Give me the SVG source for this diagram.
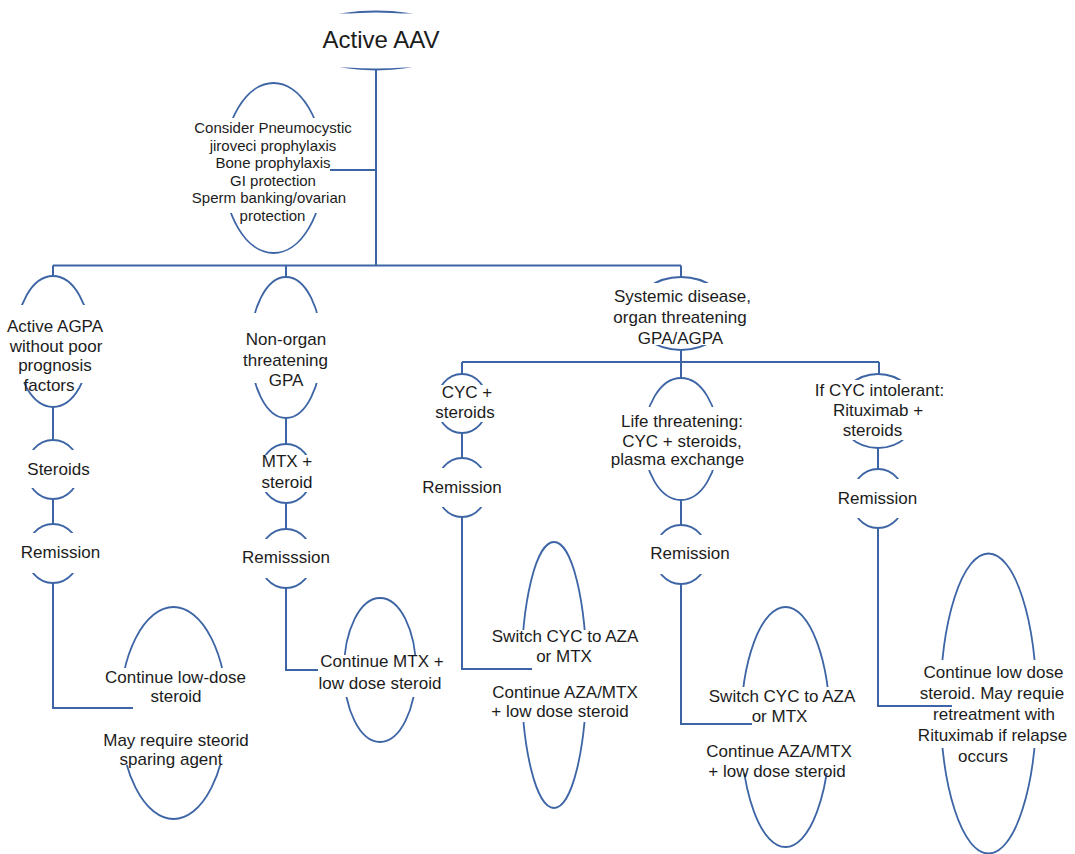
<svg xmlns="http://www.w3.org/2000/svg" width="1075" height="854" viewBox="0 0 1075 854">
<style>
.e{fill:none;stroke:#3d65a5;stroke-width:1.8}
.m{fill:#fff;stroke:none}
.t{font-family:"Liberation Sans",Arial,sans-serif;font-size:17px;fill:#1c1c1c;text-anchor:middle}
.s{font-size:15px}
.c{fill:none;stroke:#3d65a5;stroke-width:2}
</style>
<rect width="1075" height="854" fill="#fff"/>
<g id="aav"><ellipse class="e" cx="376" cy="40.5" rx="80" ry="29"/><rect class="m" x="290" y="13.5" width="172" height="54"/><text class="t" x="381" y="48" style="font-size:24px">Active AAV</text></g>
<g id="proph"><ellipse class="e" cx="273.5" cy="168" rx="50" ry="85"/><rect class="m" x="220" y="118" width="107" height="95"/>
<text class="t s" x="273" y="133">Consider Pneumocystic</text><text class="t s" x="273" y="150.6">jiroveci prophylaxis</text><text class="t s" x="273" y="168.2">Bone prophylaxis</text><text class="t s" x="273" y="185.8">GI protection</text><text class="t s" x="269" y="203.4">Sperm banking/ovarian</text><text class="t s" x="272.5" y="221">protection</text></g>
<g id="agpa"><ellipse class="e" cx="53" cy="341.5" rx="37.3" ry="65.5"/><rect class="m" x="13" y="305" width="80" height="78"/>
<text class="t" x="55" y="332">Active AGPA</text><text class="t" x="56" y="351.5">without poor</text><text class="t" x="55" y="371">prognosis</text><text class="t" x="49" y="390.5">factors</text></g>
<g id="ster1"><ellipse class="e" cx="53" cy="469.5" rx="26.7" ry="29.5"/><rect class="m" x="24" y="450" width="58" height="38"/><text class="t" x="58.5" y="475">Steroids</text></g>
<g id="rem1"><ellipse class="e" cx="53" cy="553.5" rx="26.7" ry="29.5"/><rect class="m" x="24" y="533" width="58" height="40"/><text class="t" x="60.5" y="558">Remission</text></g>
<g id="cont1"><ellipse class="e" cx="173.5" cy="713" rx="53.5" ry="106"/><rect class="m" x="117" y="668" width="113" height="97"/>
<text class="t" x="175.5" y="683">Continue low-dose</text><text class="t" x="176" y="702">steroid</text><text class="t" x="176" y="746">May require steorid</text><text class="t" x="171" y="765">sparing agent</text></g>
<g id="nonorg"><ellipse class="e" cx="286" cy="347.5" rx="35.5" ry="70.5"/><rect class="m" x="248" y="313" width="76" height="70"/>
<text class="t" x="286" y="345">Non-organ</text><text class="t" x="285.5" y="365.5">threatening</text><text class="t" x="286" y="386">GPA</text></g>
<g id="mtx"><ellipse class="e" cx="286" cy="473.5" rx="26" ry="29.5"/><rect class="m" x="257" y="455" width="58" height="37"/>
<text class="t" x="287" y="467">MTX +</text><text class="t" x="287" y="488">steroid</text></g>
<g id="rem2"><ellipse class="e" cx="286" cy="558.5" rx="26.7" ry="29.5"/><rect class="m" x="257" y="539" width="58" height="39"/><text class="t" x="286" y="563">Remisssion</text></g>
<g id="contmtx"><ellipse class="e" cx="380" cy="670" rx="36" ry="72"/><rect class="m" x="341" y="655" width="78" height="42"/>
<text class="t" x="382" y="667">Continue MTX +</text><text class="t" x="380" y="689">low dose steroid</text></g>
<g id="sys"><ellipse class="e" cx="681" cy="313.5" rx="47" ry="36.5"/><rect class="m" x="631" y="283" width="100" height="62"/>
<text class="t" x="682.5" y="302">Systemic disease,</text><text class="t" x="680" y="323">organ threatening</text><text class="t" x="680.5" y="344">GPA/AGPA</text></g>
<g id="cyc"><ellipse class="e" cx="462" cy="403.5" rx="25.7" ry="29.5"/><rect class="m" x="433" y="385" width="58" height="37"/>
<text class="t" x="467" y="397.5">CYC +</text><text class="t" x="465" y="418">steroids</text></g>
<g id="rem3"><ellipse class="e" cx="462" cy="487.5" rx="25.7" ry="29.5"/><rect class="m" x="433" y="468" width="58" height="39"/><text class="t" x="462" y="492.5">Remission</text></g>
<g id="sw3"><ellipse class="e" cx="554" cy="675" rx="32.5" ry="133"/><rect class="m" x="518" y="630" width="72" height="92"/>
<text class="t" x="565" y="642">Switch CYC to AZA</text><text class="t" x="564" y="662">or MTX</text><text class="t" x="565" y="697.5">Continue AZA/MTX</text><text class="t" x="560" y="717">+ low dose steroid</text></g>
<g id="life"><ellipse class="e" cx="681" cy="439" rx="37" ry="61"/><rect class="m" x="641" y="407" width="80" height="63"/>
<text class="t" x="682" y="427">Life threatening:</text><text class="t" x="682" y="446.5">CYC + steroids,</text><text class="t" x="677.5" y="465">plasma exchange</text></g>
<g id="rem4"><ellipse class="e" cx="681" cy="554.5" rx="26.7" ry="29.5"/><rect class="m" x="652" y="535" width="58" height="39"/><text class="t" x="690" y="559">Remission</text></g>
<g id="sw4"><ellipse class="e" cx="785.5" cy="727" rx="44.5" ry="120"/><rect class="m" x="738" y="687" width="95" height="86"/>
<text class="t" x="782" y="702">Switch CYC to AZA</text><text class="t" x="779.5" y="722">or MTX</text><text class="t" x="779" y="757">Continue AZA/MTX</text><text class="t" x="777" y="777">+ low dose steroid</text></g>
<g id="ifcyc"><ellipse class="e" cx="878" cy="411" rx="40" ry="37"/><rect class="m" x="835" y="380" width="86" height="60"/>
<text class="t" x="879.5" y="396">If CYC intolerant:</text><text class="t" x="878" y="416">Rituximab +</text><text class="t" x="872.5" y="436">steroids</text></g>
<g id="rem5"><ellipse class="e" cx="878" cy="498.5" rx="26.7" ry="29.5"/><rect class="m" x="849" y="479" width="58" height="39"/><text class="t" x="877.5" y="504">Remission</text></g>
<g id="cont5"><ellipse class="e" cx="988.5" cy="703.5" rx="48" ry="150"/><rect class="m" x="937" y="660" width="103" height="88"/>
<text class="t" x="993.5" y="678">Continue low dose</text><text class="t" x="992" y="699">steroid. May requie</text><text class="t" x="994" y="720">retreatment with</text><text class="t" x="992.5" y="741">Rituximab if relapse</text><text class="t" x="983" y="762">occurs</text></g>
<g id="connectors">
<path class="c" d="M376 69V265.5M376 170H330M53 265.5H681M53 265.5V276M286 265.5V277M681 265.5V277"/>
<path class="c" d="M53 407V440M53 499V524M53 583V708H133"/>
<path class="c" d="M286 418V444M286 503V529M286 588V670H318"/>
<path class="c" d="M681 350V362M462 362H879M462 362V374M681 362V378M879 362V374"/>
<path class="c" d="M462 433V458M462 517V669H532"/>
<path class="c" d="M681 500V525M681 584V724H752"/>
<path class="c" d="M878 448V469M878 528V706H952"/>
</g>
</svg>
